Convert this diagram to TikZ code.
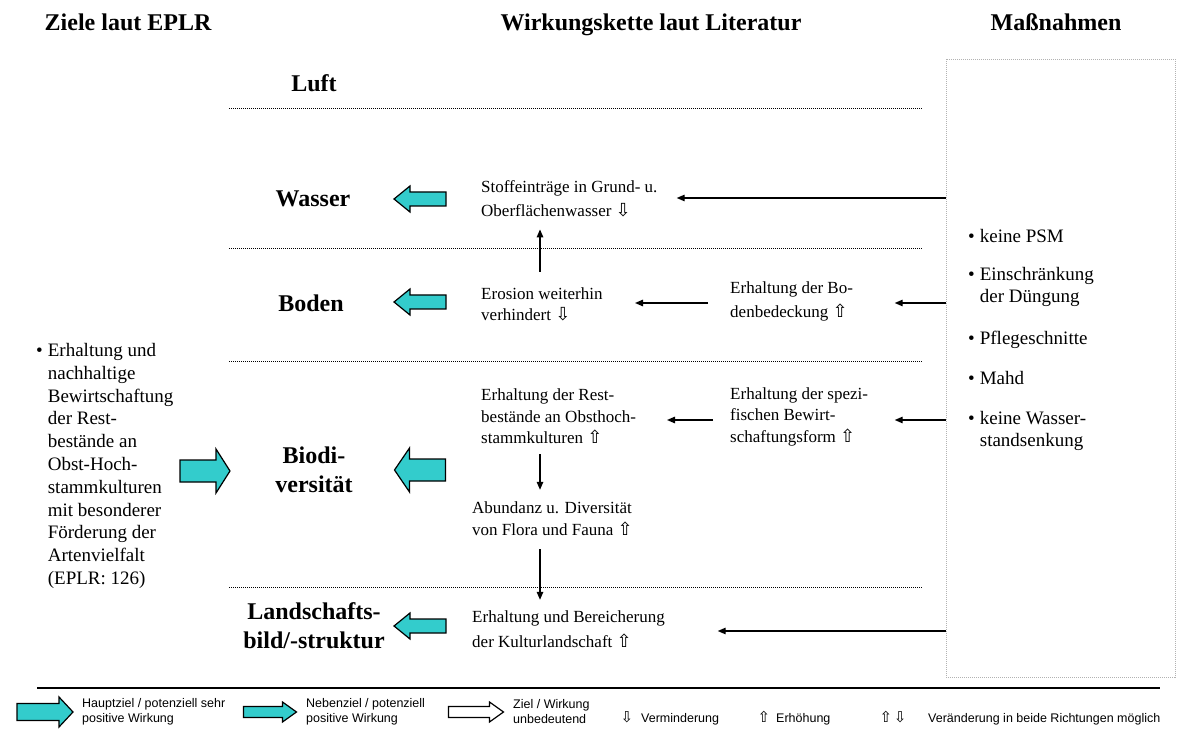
\documentclass[tikz,border=0pt]{standalone}
\usepackage{fontspec}
\setmainfont{Liberation Serif}
\setsansfont{Liberation Sans}
\newfontfamily\symf{DejaVu Sans}
\usetikzlibrary{arrows.meta,calc}
\definecolor{tq}{RGB}{51,204,204}
% hollow up/down arrows used as trend markers
\newcommand{\arrdn}{{\symf\fontsize{18}{16}\selectfont ⇩}}
\newcommand{\arrup}{{\symf\fontsize{18}{16}\selectfont ⇧}}
\newcommand{\legdn}{{\symf\fontsize{15}{14}\selectfont ⇩}}
\newcommand{\legup}{{\symf\fontsize{15}{14}\selectfont ⇧}}
% bulleted entry with hanging indent
\newcommand{\bitem}[1]{\begin{tabular}{@{}l@{\hspace{5pt}}l@{}}\textbullet & #1\end{tabular}}
% block arrow: centre x, centre y, direction (1 right / -1 left), length,
% head height, shaft height, head length, style
\newcommand{\blkarrow}[8]{%
  \draw[#8] ({#1-(#3)*#4/2},{#2-#6/2})
    -- ({#1+(#3)*(#4/2-#7)},{#2-#6/2})
    -- ({#1+(#3)*(#4/2-#7)},{#2-#5/2})
    -- ({#1+(#3)*#4/2},{#2})
    -- ({#1+(#3)*(#4/2-#7)},{#2+#5/2})
    -- ({#1+(#3)*(#4/2-#7)},{#2+#6/2})
    -- ({#1-(#3)*#4/2},{#2+#6/2}) -- cycle;}
\begin{document}
\begin{tikzpicture}[x=1pt,y=-1pt,
  head/.style={font=\bfseries\fontsize{24}{28}\selectfont, inner sep=0pt, anchor=base},
  cat/.style={font=\bfseries\fontsize{24}{29}\selectfont, align=center, inner sep=0pt},
  txt/.style={font=\fontsize{17}{#1}\selectfont, align=left, anchor=west, inner sep=0pt},
  big/.style={font=\fontsize{19}{22.8}\selectfont, align=left, anchor=west, inner sep=0pt},
  sep/.style={line width=0.9pt, dash pattern=on 0.9pt off 1.1pt},
  arr/.style={line width=1.3pt, -{Triangle[length=8pt,width=6.5pt]}},
  blk/.style={draw=black, line width=1.2pt, fill=tq, line join=miter},
  leg/.style={font=\sffamily\fontsize{12.5}{15}\selectfont, align=left, anchor=west, inner sep=0pt}
]
\useasboundingbox (0,0) rectangle (1197,735);

% column titles
\node[head] (t1) at (128,31) {Ziele laut EPLR};
\node[head] (t2) at (651,31) {Wirkungskette laut Literatur};
\node[head] (t3) at (1056,31) {Maßnahmen};

% measures box
\node[draw=gray!60, line width=0.6pt, dash pattern=on 1pt off 1pt,
      minimum width=229pt, minimum height=618pt, inner sep=0pt] (box) at (1060.5,368) {};
\node[big] (m1) at (968,238) {\bitem{keine PSM}};
\node[big] (m2) at (968,287) {\bitem{Einschränkung\\& der Düngung}};
\node[big] (m3) at (968,340) {\bitem{Pflegeschnitte}};
\node[big] (m4) at (968,380) {\bitem{Mahd}};
\node[big] (m5) at (968,431) {\bitem{keine Wasser-\\& standsenkung}};

% programme objective
\node[big] (ziel) at (36,466) {\bitem{Erhaltung und\\& nachhaltige\\& Bewirtschaftung\\& der Rest-\\& bestände an\\& Obst-Hoch-\\& stammkulturen\\& mit besonderer\\& Förderung der\\& Artenvielfalt\\& (EPLR: 126)}};

% protected goods
\node[cat] (luft) at (314,83) {Luft};
\node[cat] (wasser) at (313,199) {Wasser};
\node[cat] (boden) at (311,303) {Boden};
\node[cat] (bio) at (314,470) {Biodi-\\versität};
\node[cat] (land) at (314,626) {Landschafts-\\bild/-struktur};

% layer separators
\foreach \yy in {108,248,361,587}
  \draw[sep] (229,\yy) -- (922,\yy);

% goal arrows
\blkarrow{205}{471}{1}{50}{44}{22}{14}{blk}
\blkarrow{420}{199}{-1}{52}{26}{14}{16}{blk}
\blkarrow{420}{302}{-1}{52}{26}{14}{16}{blk}
\blkarrow{420}{470}{-1}{51}{44}{22}{15}{blk}
\blkarrow{420}{626}{-1}{52}{26}{14}{16}{blk}

% chain of effects
\node[txt=24] (stoff) at (481,199) {Stoffeinträge in Grund- u.\\Oberflächenwasser \arrdn};
\node[txt=21] (ero) at (481,304.5) {Erosion weiterhin\\verhindert \arrdn};
\node[txt=24] (bod) at (730,301) {Erhaltung der Bo-\\denbedeckung \arrup};
\node[txt=21.5] (rest) at (481,416.5) {Erhaltung der Rest-\\bestände an Obsthoch-\\stammkulturen \arrup};
\node[txt=21.5] (spez) at (730,416.5) {Erhaltung der spezi-\\fischen Bewirt-\\schaftungsform \arrup};
\node[txt=22] (abund) at (472,519) {Abundanz u. Diversität\\von Flora und Fauna \arrup};
\node[txt=25] (kultur) at (472,629.5) {Erhaltung und Bereicherung\\der Kulturlandschaft \arrup};

\draw[arr] ([yshift=1pt]box.west |- stoff.east) -- ++(-269,0);
\draw[arr] ([yshift=-2pt]box.west |- bod.east) -- ++(-51,0);
\draw[arr] ($(bod.west)+(-22,2)$) -- ++(-73,0);
\draw[arr] ($(ero.north west)+(59,-16)$) -- ($(stoff.south west)+(59,12)$);
\draw[arr] ([yshift=-3.5pt]box.west |- spez.west) -- ++(-51,0);
\draw[arr] ($(spez.west)+(-17,3.5)$) -- ++(-46,0);
\draw[arr] ($(rest.south west)+(59,10)$) -- ($(abund.north west)+(68,-12)$);
\draw[arr] ($(abund.south west)+(68,13)$) -- ($(kultur.north west)+(68,-11)$);
\draw[arr] ([yshift=-1.5pt]box.west |- kultur.east) -- ++(-228,0);

% legend
\draw[line width=1.5pt] (37,688) -- (1160,688);
\blkarrow{45}{712}{1}{56}{30}{17}{14}{blk}
\blkarrow{270}{712}{1}{53}{20}{11}{14}{blk}
\blkarrow{476}{712}{1}{55}{20}{11}{14}{blk, fill=white}
\node[leg] (l1) at (82,712) {Hauptziel / potenziell sehr\\positive Wirkung};
\node[leg] (l2) at (306,712) {Nebenziel / potenziell\\positive Wirkung};
\node[leg] (l3) at (513,712) {Ziel / Wirkung\\unbedeutend};
\node[inner sep=0pt] (s1) at (627,717) {\legdn};
\node[leg] (l4) at (641,719) {Verminderung};
\node[inner sep=0pt] (s2) at (764,717) {\legup};
\node[leg] (l5) at (776,719) {Erhöhung};
\node[inner sep=0pt] (s3) at (893,717) {\legup\,\legdn};
\node[leg] (l6) at (928,719) {Veränderung in beide Richtungen möglich};
\end{tikzpicture}
\end{document}
